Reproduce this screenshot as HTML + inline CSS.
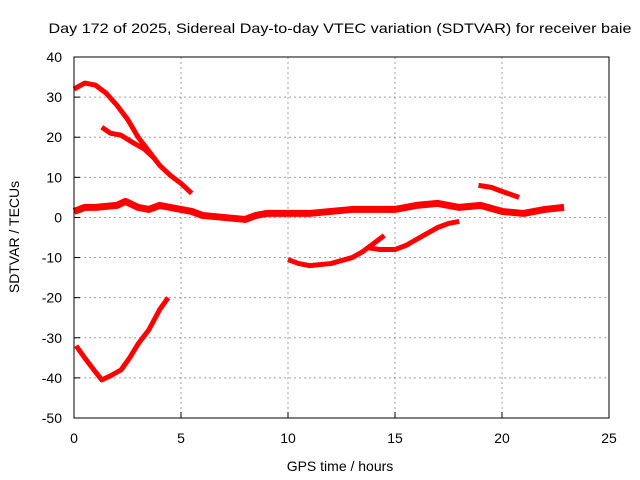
<!DOCTYPE html>
<html><head><meta charset="utf-8"><style>
html,body{margin:0;padding:0;background:#fff;width:640px;height:480px;overflow:hidden}
text{font-family:"Liberation Sans",sans-serif;fill:#000}
</style></head><body>
<svg id="chart" width="640" height="480" viewBox="0 0 640 480">
<rect width="640" height="480" fill="#fff"/>
<text x="340" y="33" font-size="14" text-anchor="middle" textLength="583" lengthAdjust="spacingAndGlyphs">Day 172 of 2025, Sidereal Day-to-day VTEC variation (SDTVAR) for receiver baie</text>
<g id="grid"></g>
<g id="series"></g>
<rect x="74" y="57" width="535" height="361" fill="none" stroke="#000" stroke-width="1"/>
<g id="ticks"></g>
<text x="340" y="471" font-size="14" text-anchor="middle">GPS time / hours</text>
<text transform="translate(19,237) rotate(-90)" font-size="14" text-anchor="middle">SDTVAR / TECUs</text>
</svg>
<script>
const xTicks=[0,5,10,15,20,25];
const yTicks=[40,30,20,10,0,-10,-20,-30,-40,-50];
const seriesUpper=[[0,32],[0.5,33.5],[1,33],[1.5,31],[2,28],[2.5,24.5],[3,20],[3.5,16.5],[4,13],[4.5,10.5],[5,8.5],[5.5,6]];
const seriesUpper2=[[1.3,22.5],[1.7,21],[2.2,20.5],[2.8,18.5],[3.3,17],[3.8,14.5]];
const seriesMain=[[0,1.5],[0.5,2.5],[1,2.5],[2,3],[2.4,4],[3,2.5],[3.5,2],[4,3],[5,2],[5.5,1.5],[6,0.5],[7,0],[8,-0.5],[8.5,0.5],[9,1],[10,1],[11,1],[12,1.5],[13,2],[14,2],[15,2],[16,3],[17,3.5],[18,2.5],[19,3],[20,1.5],[21,1],[21.5,1.5],[22,2],[22.9,2.5]];
const seriesDip=[[10,-10.5],[10.5,-11.5],[11,-12],[12,-11.5],[13,-10],[13.5,-8.5],[14,-6.5],[14.5,-4.5]];
const seriesRise=[[13.7,-7.5],[14.3,-8],[15,-8],[15.5,-7],[16,-5.5],[16.5,-4],[17,-2.5],[17.5,-1.5],[18,-1]];
const seriesShort=[[18.9,8],[19.5,7.5],[20,6.5],[20.8,5]];
const seriesLow=[[0.1,-32],[0.5,-35],[1,-38.5],[1.3,-40.5],[1.7,-39.5],[2.2,-38],[2.6,-35],[3,-31.5],[3.5,-28],[4,-23],[4.4,-20]];
const NS='http://www.w3.org/2000/svg';
const X=v=>74+(v-0)*535/25;
const Y=v=>57+(40-v)*361/90;
const grid=document.getElementById('grid'),ticks=document.getElementById('ticks'),ser=document.getElementById('series');
function mk(t,a,p){const e=document.createElementNS(NS,t);for(const k in a)e.setAttribute(k,a[k]);p.appendChild(e);return e;}
xTicks.forEach(v=>{
 if(v>0&&v<25){const g=mk('line',{x1:X(v),x2:X(v),y1:57,y2:418,stroke:'#a0a0a0','stroke-dasharray':'2,3'},grid);
 
 }
 const t=mk('line',{x1:X(v),x2:X(v),y1:418,y2:412,stroke:'#000'},ticks);
 
 
 const l=mk('text',{x:X(v),y:443,'font-size':14,'text-anchor':'middle'},ticks);l.textContent=v;
 
 
});
yTicks.forEach(v=>{
 if(v<40&&v>-50){const g=mk('line',{x1:74,x2:609,y1:Y(v),y2:Y(v),stroke:'#a0a0a0','stroke-dasharray':'2,3'},grid);
 
 }
 const t=mk('line',{x1:74,x2:80,y1:Y(v),y2:Y(v),stroke:'#000'},ticks);
 
 
 const l=mk('text',{x:62,y:Y(v)+5,'font-size':14,'text-anchor':'end'},ticks);l.textContent=v;
 
 
});
[[seriesUpper,'upper-curve',5],[seriesUpper2,'upper-branch-curve',5],[seriesMain,'main-curve',7],[seriesDip,'dip-curve',5],[seriesRise,'rise-curve',5],[seriesShort,'short-curve',5],[seriesLow,'low-curve',5]].forEach(([d,n,w])=>{
 const p=mk('polyline',{points:d.map(q=>X(q[0])+','+Y(q[1])).join(' '),fill:'none',stroke:'#ff0000','stroke-width':w,'stroke-linejoin':'round','stroke-linecap':'butt'},ser);
 
 
});
</script>
</body></html>
